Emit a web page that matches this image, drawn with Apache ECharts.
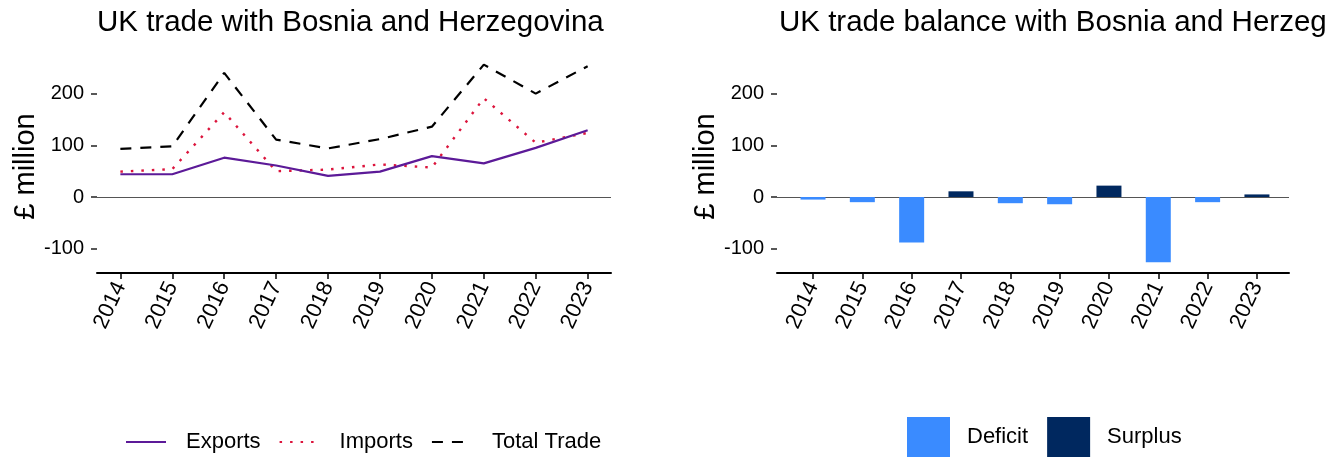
<!DOCTYPE html>
<html><head><meta charset="utf-8">
<script src="https://cdn.jsdelivr.net/npm/echarts@6/dist/echarts.min.js"></script>
<style>html,body{margin:0;padding:0;background:#fff}#c{width:1344px;height:457px}</style>
</head><body><div id="c"></div>
<script>
const years = [2014, 2015, 2016, 2017, 2018, 2019, 2020, 2021, 2022, 2023];
const exportsData = [44, 44, 76, 61, 41, 49, 79, 65, 95, 129];
const importsData = [49, 54, 164, 50, 53, 63, 57, 191, 105, 124];
const totalData = [93, 98, 240, 111, 94, 112, 136, 256, 200, 253];
const balanceData = [-5, -10, -88, 11, -12, -14, 22, -126, -10, 5];
const yTicks = [-100, 0, 100, 200];

const FONT = '"Liberation Sans", Arial, sans-serif';
const pair = arr => years.map((y, i) => [y, arr[i]]);
const deficit = years.map((y, i) => [y, balanceData[i] < 0 ? balanceData[i] : '-']);
const surplus = years.map((y, i) => [y, balanceData[i] >= 0 ? balanceData[i] : '-']);

function yAx(g) {
  return {
    gridIndex: g, type: 'value', min: -147, max: 265,
    axisLine: {show: false}, splitLine: {show: false},
    axisTick: {show: true, customValues: yTicks, length: 6, lineStyle: {color: '#222', width: 1.5}},
    axisLabel: {customValues: yTicks, fontSize: 20, color: '#000', margin: 13, fontFamily: FONT},
    name: '£ million', nameLocation: 'middle', nameGap: 46,
    nameTextStyle: {fontSize: 29, color: '#000', fontFamily: FONT}
  };
}
function xAx(g, mn, mx) {
  return {
    gridIndex: g, type: 'value', min: mn, max: mx,
    axisLine: {onZero: false, lineStyle: {color: '#000', width: 2}},
    splitLine: {show: false},
    axisTick: {show: true, customValues: years, length: 6, lineStyle: {color: '#000', width: 1.5}},
    axisLabel: {customValues: years, rotate: 65, fontSize: 22, color: '#000', margin: 10,
      fontFamily: FONT, formatter: v => String(v)}
  };
}
const zeroLine = {silent: true, symbol: 'none', label: {show: false},
  lineStyle: {color: '#555', width: 1, type: 'solid'}, data: [{yAxis: 0}], z: 1};

const chart = echarts.init(document.getElementById('c'), null, {renderer: 'canvas'});
chart.setOption({
  animation: false,
  textStyle: {fontFamily: FONT},
  title: [
    {text: 'UK trade with Bosnia and Herzegovina', left: 92, top: 3,
      textStyle: {fontSize: 29.5, fontWeight: 'normal', color: '#000', fontFamily: FONT}},
    {text: 'UK trade balance with Bosnia and Herzegovina', left: 774, top: 3,
      textStyle: {fontSize: 29.5, fontWeight: 'normal', color: '#000', fontFamily: FONT,
        width: 552, overflow: 'truncate', ellipsis: ''}}
  ],
  legend: [
    {data: ['Exports', 'Imports', 'Total Trade'], left: 125, top: 431, itemWidth: 40, itemHeight: 14,
      itemGap: 18, padding: 0, itemStyle: {opacity: 0},
      textStyle: {fontSize: 22, color: '#000', fontFamily: FONT, padding: [0, 0, 0, 15]}},
    {data: ['Deficit', 'Surplus'], left: 907, top: 417, itemWidth: 43, itemHeight: 40, icon: 'rect',
      itemGap: 19, padding: 0,
      textStyle: {fontSize: 22, color: '#000', fontFamily: FONT, padding: [14, 0, 0, 12]}}
  ],
  grid: [
    {left: 97, right: 733, top: 60, bottom: 184},
    {left: 777, right: 55, top: 60, bottom: 184}
  ],
  xAxis: [xAx(0, 2013.55, 2023.45), xAx(1, 2013.27, 2023.65)],
  yAxis: [yAx(0), yAx(1)],
  series: [
    {name: 'Exports', type: 'line', xAxisIndex: 0, yAxisIndex: 0, data: pair(exportsData),
      symbol: 'none', color: '#5C1A98', lineStyle: {color: '#5C1A98', width: 2.2}, z: 4, markLine: zeroLine},
    {name: 'Imports', type: 'line', xAxisIndex: 0, yAxisIndex: 0, data: pair(importsData),
      symbol: 'none', color: '#DC143C', lineStyle: {color: '#DC143C', width: 2.4, type: [2.5, 8], cap: 'butt'}, z: 3},
    {name: 'Total Trade', type: 'line', xAxisIndex: 0, yAxisIndex: 0, data: pair(totalData),
      symbol: 'none', color: '#000', lineStyle: {color: '#000', width: 2.2, type: [11, 9]}, z: 3},
    {name: 'Deficit', type: 'bar', xAxisIndex: 1, yAxisIndex: 1, data: deficit, barWidth: 25, barGap: '-100%',
      itemStyle: {color: '#3A8BFF'}, z: 3, markLine: zeroLine},
    {name: 'Surplus', type: 'bar', xAxisIndex: 1, yAxisIndex: 1, data: surplus, barWidth: 25, barGap: '-100%',
      itemStyle: {color: '#00285F'}, z: 3}
  ]
});
</script></body></html>
